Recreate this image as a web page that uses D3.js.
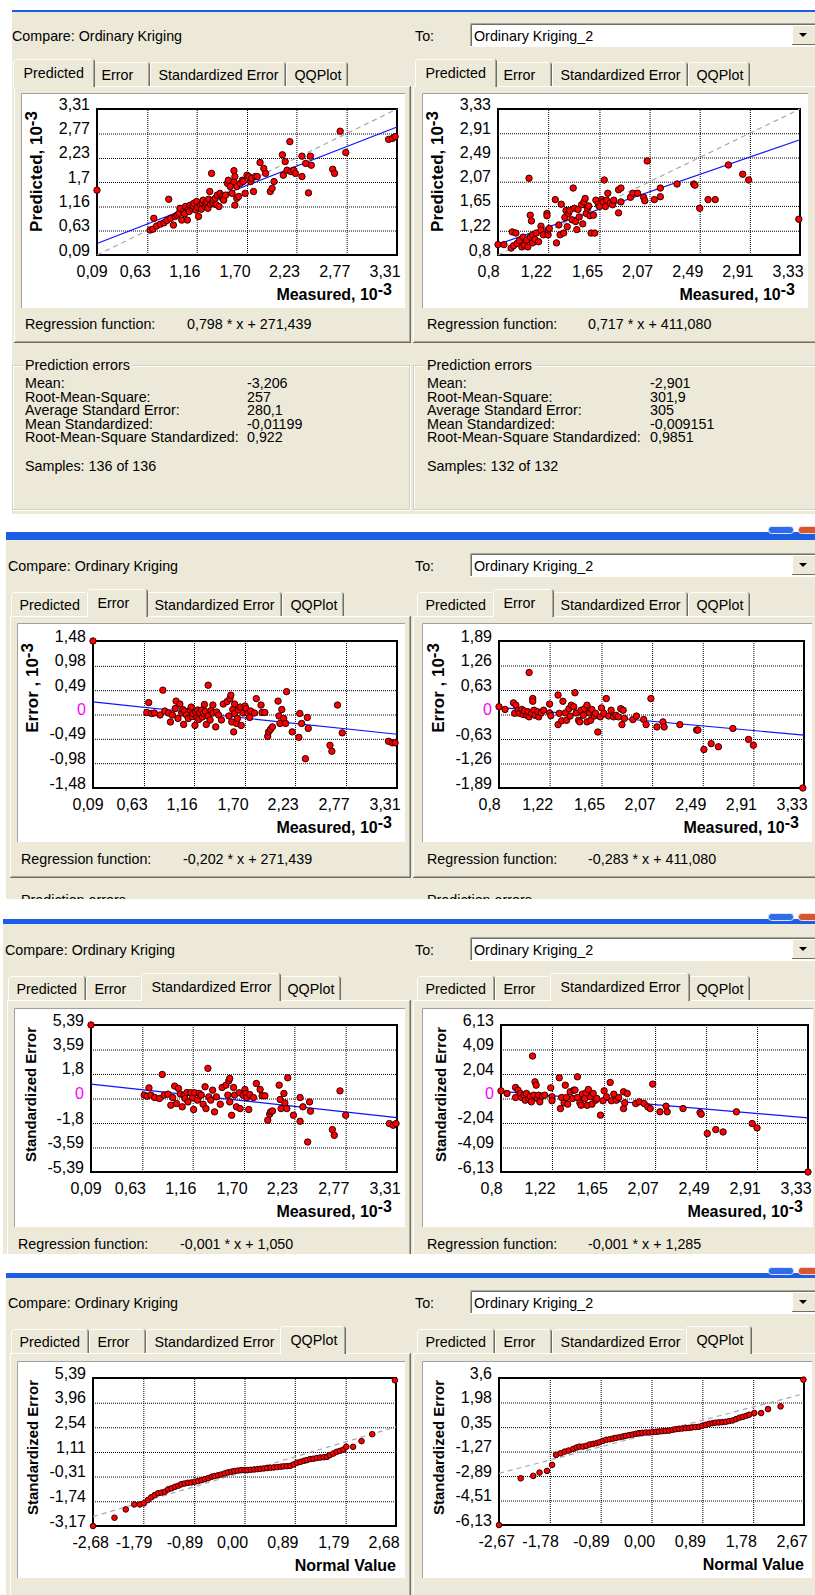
<!DOCTYPE html>
<html>
<head>
<meta charset="utf-8">
<script src="https://cdn.jsdelivr.net/npm/d3@7/dist/d3.min.js"></script>
<style>
  body { margin: 0; background: #fff; }
  svg { display: block; }
</style>
</head>
<body>
<svg id="chart" width="815" height="1595"></svg>
<script>
// =============================
// DATA (in 10^-3 units)
// =============================
const tabNames = ["Predicted", "Error", "Standardized Error", "QQPlot"];
const modelLeft = "Ordinary Kriging";
const modelRight = "Ordinary Kriging_2";

const ticksMeasuredL = ["0,09", "0,63", "1,16", "1,70", "2,23", "2,77", "3,31"];
const ticksPredictedL = ["0,09", "0,63", "1,16", "1,7", "2,23", "2,77", "3,31"];
const ticksMeasuredR = ["0,8", "1,22", "1,65", "2,07", "2,49", "2,91", "3,33"];
const ticksErrorL = ["-1,48", "-0,98", "-0,49", "0", "0,49", "0,98", "1,48"];
const ticksErrorR = ["-1,89", "-1,26", "-0,63", "0", "0,63", "1,26", "1,89"];
const ticksStdL = ["-5,39", "-3,59", "-1,8", "0", "1,8", "3,59", "5,39"];
const ticksStdR = ["-6,13", "-4,09", "-2,04", "0", "2,04", "4,09", "6,13"];
const ticksQQyL = ["-3,17", "-1,74", "-0,31", "1,11", "2,54", "3,96", "5,39"];
const ticksQQxL = ["-2,68", "-1,79", "-0,89", "0,00", "0,89", "1,79", "2,68"];
const ticksQQyR = ["-6,13", "-4,51", "-2,89", "-1,27", "0,35", "1,98", "3,6"];
const ticksQQxR = ["-2,67", "-1,78", "-0,89", "0,00", "0,89", "1,78", "2,67"];

const regTexts = {
  predL: "0,798 * x + 271,439", predR: "0,717 * x + 411,080",
  errL: "-0,202 * x + 271,439", errR: "-0,283 * x + 411,080",
  stdL: "-0,001 * x + 1,050", stdR: "-0,001 * x + 1,285"
};

const statLabels = ["Mean:", "Root-Mean-Square:", "Average Standard Error:", "Mean Standardized:", "Root-Mean-Square Standardized:"];
const statsLeft = ["-3,206", "257", "280,1", "-0,01199", "0,922"];
const statsRight = ["-2,901", "301,9", "305", "-0,009151", "0,9851"];
const samplesLeft = "Samples: 136 of 136";
const samplesRight = "Samples: 132 of 132";

// regression (blue) and reference (grey dashed) lines, end points
const regPredL = [[0.09, 0.343], [3.31, 2.912]];
const regPredR = [[0.8, 0.985], [3.33, 2.798]];
const regErrL = [[0.09, 0.253], [3.31, -0.398]];
const regErrR = [[0.8, 0.185], [3.33, -0.531]];
const regStdL = [[0.09, 1.05], [3.31, -1.40]];
const regStdR = [[0.8, 0.61], [3.33, -1.62]];
const refPredL = [[0.09, 0.09], [3.31, 3.31]];
const refPredR = [[0.8, 0.8], [3.33, 3.33]];
const refQQL = [[-2.68, -2.63], [2.68, 2.56]];
const refQQR = [[-2.67, -2.71], [2.67, 2.56]];

const predLeft = [[0.09,1.52],[0.66,0.64],[0.69,0.66],[0.70,0.90],[0.73,0.73],[0.77,0.77],[0.81,0.80],[0.84,0.85],[0.86,1.32],[0.88,0.90],[0.91,0.75],[0.93,0.94],[0.95,0.97],[0.97,1.01],[0.98,1.12],[1.00,0.86],[1.02,1.05],[1.03,1.00],[1.04,1.16],[1.06,0.86],[1.07,1.10],[1.08,1.05],[1.09,1.19],[1.11,1.12],[1.12,1.17],[1.13,1.23],[1.15,1.08],[1.16,1.27],[1.17,1.14],[1.18,0.94],[1.20,1.19],[1.21,1.10],[1.22,1.23],[1.23,1.30],[1.25,1.16],[1.26,1.22],[1.27,1.27],[1.28,1.12],[1.29,1.32],[1.30,1.49],[1.31,1.21],[1.32,1.89],[1.33,1.25],[1.34,1.30],[1.36,1.34],[1.37,1.20],[1.38,1.41],[1.40,1.16],[1.41,1.45],[1.43,1.38],[1.44,1.33],[1.45,1.30],[1.47,1.41],[1.49,1.67],[1.50,1.74],[1.52,1.60],[1.54,1.45],[1.56,1.95],[1.56,1.71],[1.57,1.82],[1.57,1.19],[1.59,1.60],[1.59,1.34],[1.61,1.38],[1.63,1.67],[1.65,1.74],[1.66,1.71],[1.68,1.45],[1.70,1.85],[1.72,1.82],[1.74,1.71],[1.75,1.78],[1.77,1.49],[1.79,1.82],[1.81,1.82],[1.84,2.13],[1.88,2.00],[1.90,1.89],[1.95,1.49],[1.97,1.56],[1.99,1.71],[2.08,2.30],[2.09,1.85],[2.11,2.15],[2.13,1.96],[2.16,2.59],[2.17,1.93],[2.20,1.96],[2.22,1.89],[2.29,1.82],[2.29,2.27],[2.33,2.11],[2.36,1.46],[2.38,2.27],[2.39,2.07],[2.62,1.98],[2.64,1.89],[2.70,2.82],[2.76,2.35],[3.22,2.64],[3.26,2.66],[3.29,2.70]];

const predRight = [[0.80,0.98],[0.85,0.98],[0.91,0.92],[0.92,1.20],[0.93,0.96],[0.95,1.18],[0.96,1.00],[0.98,1.05],[1.00,0.94],[1.01,1.11],[1.02,0.97],[1.04,1.06],[1.05,0.94],[1.06,2.13],[1.07,1.11],[1.07,1.49],[1.08,1.39],[1.09,1.01],[1.09,1.15],[1.11,1.07],[1.12,1.18],[1.14,1.03],[1.16,1.30],[1.16,1.23],[1.18,1.15],[1.21,1.52],[1.21,1.48],[1.22,1.15],[1.22,1.23],[1.23,1.26],[1.28,1.76],[1.29,1.01],[1.31,1.32],[1.32,1.15],[1.33,1.68],[1.35,1.18],[1.36,1.45],[1.37,1.57],[1.38,1.29],[1.39,1.52],[1.40,1.57],[1.42,1.41],[1.43,1.96],[1.44,1.61],[1.45,1.38],[1.46,1.24],[1.47,1.59],[1.48,1.46],[1.50,1.67],[1.51,1.34],[1.52,1.72],[1.53,1.78],[1.54,1.52],[1.55,1.61],[1.56,1.65],[1.57,1.48],[1.58,1.18],[1.60,1.49],[1.61,1.18],[1.62,1.75],[1.64,1.68],[1.65,1.64],[1.67,1.76],[1.68,1.72],[1.69,2.10],[1.70,1.64],[1.71,1.75],[1.72,1.87],[1.74,1.70],[1.76,1.67],[1.77,1.75],[1.81,1.93],[1.81,1.53],[1.83,1.72],[1.83,1.96],[1.91,1.80],[1.93,1.87],[1.97,1.87],[2.02,1.80],[2.03,1.74],[2.05,2.43],[2.11,1.76],[2.16,1.81],[2.16,1.96],[2.30,2.03],[2.44,2.03],[2.45,2.01],[2.49,1.61],[2.56,1.76],[2.62,1.76],[2.73,2.36],[2.85,2.20],[2.90,2.10],[3.32,1.42]];

const errLeft = [[0.09,1.48],[0.66,0.04],[0.68,0.24],[0.71,0.02],[0.74,0.03],[0.80,-0.01],[0.83,0.49],[0.85,0.07],[0.89,0.03],[0.91,-0.15],[0.93,-0.01],[0.96,0.12],[0.97,0.27],[0.99,-0.08],[1.01,0.21],[1.03,0.03],[1.04,0.10],[1.05,-0.20],[1.06,0.07],[1.08,-0.01],[1.10,-0.08],[1.12,0.09],[1.13,0.15],[1.14,-0.04],[1.15,0.02],[1.17,-0.22],[1.18,0.05],[1.19,-0.06],[1.20,0.09],[1.21,-0.10],[1.22,0.03],[1.24,0.09],[1.25,-0.05],[1.26,0.02],[1.27,0.20],[1.28,0.06],[1.29,-0.20],[1.31,0.59],[1.31,-0.03],[1.33,-0.11],[1.34,0.08],[1.36,0.03],[1.36,0.19],[1.39,-0.25],[1.40,0.05],[1.42,-0.01],[1.45,-0.11],[1.47,0.21],[1.51,0.26],[1.53,-0.03],[1.54,0.32],[1.55,0.39],[1.56,-0.15],[1.57,0.10],[1.58,-0.35],[1.59,0.21],[1.59,0.02],[1.61,-0.18],[1.62,-0.08],[1.63,0.09],[1.65,0.15],[1.66,-0.22],[1.68,0.03],[1.70,0.17],[1.71,0.12],[1.73,0.02],[1.75,-0.06],[1.76,0.07],[1.80,0.03],[1.82,0.32],[1.87,0.19],[1.88,0.04],[1.91,0.04],[1.94,-0.44],[1.95,-0.35],[1.97,-0.30],[1.99,-0.25],[2.05,0.27],[2.06,-0.03],[2.07,-0.18],[2.09,0.10],[2.11,-0.08],[2.13,-0.18],[2.14,0.46],[2.20,-0.35],[2.27,-0.46],[2.28,0.02],[2.30,-0.18],[2.34,-0.89],[2.36,-0.06],[2.37,-0.28],[2.60,-0.62],[2.62,-0.74],[2.68,0.19],[2.73,-0.37],[3.22,-0.54],[3.26,-0.57],[3.29,-0.57]];

const errRight = [[0.80,0.20],[0.85,0.13],[0.92,0.30],[0.93,0.03],[0.94,0.24],[0.96,0.11],[0.97,0.03],[0.99,0.13],[1.00,0.00],[1.01,0.09],[1.03,-0.02],[1.04,0.07],[1.05,-0.06],[1.05,1.08],[1.07,0.03],[1.08,0.41],[1.08,0.34],[1.09,0.11],[1.10,-0.02],[1.12,0.07],[1.13,-0.06],[1.15,0.04],[1.17,0.11],[1.22,0.27],[1.22,0.04],[1.23,-0.03],[1.29,0.50],[1.29,-0.26],[1.30,0.03],[1.32,-0.16],[1.33,0.34],[1.35,0.04],[1.36,-0.15],[1.38,0.15],[1.39,-0.04],[1.40,0.24],[1.42,0.20],[1.43,0.56],[1.44,0.04],[1.46,-0.15],[1.47,-0.19],[1.48,0.11],[1.50,-0.02],[1.51,0.15],[1.53,-0.19],[1.53,0.24],[1.55,0.04],[1.56,-0.15],[1.57,0.13],[1.59,-0.04],[1.60,0.03],[1.62,-0.45],[1.64,-0.06],[1.65,0.17],[1.67,0.03],[1.69,0.41],[1.71,-0.04],[1.73,0.11],[1.75,-0.06],[1.77,-0.02],[1.79,-0.06],[1.81,0.15],[1.82,-0.26],[1.83,0.11],[1.84,-0.10],[1.91,-0.13],[1.94,-0.04],[2.00,-0.13],[2.02,-0.26],[2.06,0.41],[2.11,-0.32],[2.16,-0.19],[2.17,-0.32],[2.30,-0.26],[2.44,-0.40],[2.45,-0.40],[2.50,-0.90],[2.56,-0.75],[2.62,-0.83],[2.74,-0.36],[2.87,-0.64],[2.91,-0.79],[3.32,-1.89]];

const stdLeft = [[0.09,5.39],[0.65,0.25],[0.68,0.17],[0.70,0.78],[0.72,0.25],[0.76,0.07],[0.81,0.00],[0.84,1.76],[0.86,0.25],[0.90,0.32],[0.93,-0.49],[0.95,0.07],[0.97,0.91],[0.99,-0.37],[1.01,0.74],[1.03,0.32],[1.05,-0.61],[1.07,0.25],[1.08,0.00],[1.10,0.44],[1.11,-0.25],[1.14,0.42],[1.16,0.07],[1.17,-0.81],[1.18,0.42],[1.21,-0.12],[1.23,0.37],[1.25,0.25],[1.27,-0.42],[1.29,0.86],[1.30,-0.74],[1.32,2.21],[1.33,0.12],[1.35,-0.12],[1.37,0.61],[1.39,-0.98],[1.41,0.12],[1.45,-0.42],[1.47,0.81],[1.51,0.98],[1.53,0.25],[1.54,1.30],[1.55,1.47],[1.55,-0.25],[1.57,-1.23],[1.59,0.81],[1.60,0.25],[1.62,-0.61],[1.65,0.42],[1.66,-0.74],[1.69,0.25],[1.71,0.66],[1.72,0.37],[1.73,0.07],[1.75,-0.81],[1.76,0.29],[1.80,0.07],[1.83,1.10],[1.87,0.66],[1.89,0.20],[1.92,0.20],[1.95,-1.59],[1.97,-1.15],[1.98,-0.98],[2.00,-0.91],[2.07,0.98],[2.08,-0.07],[2.09,-0.74],[2.12,0.37],[2.13,-0.32],[2.15,-0.74],[2.16,1.52],[2.22,-1.23],[2.29,-1.67],[2.29,0.07],[2.32,-0.61],[2.37,-3.19],[2.39,-0.25],[2.40,-0.93],[2.63,-2.28],[2.65,-2.70],[2.71,0.56],[2.77,-1.23],[3.23,-1.84],[3.27,-1.96],[3.30,-1.84]];

const stdRight = [[0.80,0.64],[0.85,0.42],[0.92,0.92],[0.92,0.08],[0.94,0.70],[0.96,0.42],[0.97,0.08],[0.99,0.28],[1.00,-0.14],[1.01,0.42],[1.03,0.00],[1.04,0.19],[1.05,-0.28],[1.06,3.54],[1.07,0.28],[1.08,1.39],[1.09,1.11],[1.10,0.00],[1.11,0.28],[1.12,-0.28],[1.14,0.19],[1.16,0.28],[1.21,0.89],[1.22,0.14],[1.22,-0.19],[1.28,1.73],[1.29,-0.84],[1.30,0.08],[1.32,-0.36],[1.33,1.11],[1.34,0.08],[1.35,-0.47],[1.37,0.56],[1.39,0.00],[1.40,0.70],[1.41,0.70],[1.43,1.81],[1.43,0.08],[1.45,-0.36],[1.46,-0.56],[1.47,0.36],[1.49,0.00],[1.50,0.47],[1.51,-0.56],[1.52,0.75],[1.54,0.14],[1.55,-0.47],[1.56,0.42],[1.58,-0.14],[1.59,0.00],[1.62,-1.39],[1.64,-0.19],[1.65,0.64],[1.67,0.14],[1.70,1.34],[1.71,-0.19],[1.73,0.36],[1.75,-0.14],[1.77,0.08],[1.81,0.56],[1.81,-0.84],[1.82,-0.36],[1.84,0.42],[1.91,-0.42],[1.94,-0.28],[1.98,-0.42],[2.01,-0.70],[2.03,-0.84],[2.05,1.20],[2.11,-1.11],[2.16,-0.64],[2.17,-1.11],[2.30,-0.84],[2.44,-1.17],[2.45,-1.31],[2.50,-2.92],[2.57,-2.59],[2.63,-2.79],[2.74,-1.11],[2.87,-2.09],[2.91,-2.45],[3.33,-6.13]];

const qqLeft = [[-2.68,-3.17],[-2.30,-2.69],[-2.10,-2.21],[-1.95,-1.92],[-1.85,-1.92],[-1.78,-1.86],[-1.71,-1.67],[-1.65,-1.51],[-1.59,-1.38],[-1.53,-1.28],[-1.47,-1.24],[-1.41,-1.19],[-1.35,-1.05],[-1.29,-0.99],[-1.23,-0.90],[-1.17,-0.84],[-1.12,-0.76],[-1.06,-0.71],[-1.00,-0.67],[-0.94,-0.65],[-0.88,-0.61],[-0.82,-0.57],[-0.76,-0.52],[-0.70,-0.46],[-0.64,-0.40],[-0.58,-0.32],[-0.53,-0.28],[-0.47,-0.24],[-0.41,-0.19],[-0.35,-0.13],[-0.29,-0.07],[-0.23,-0.03],[-0.18,0.01],[-0.12,0.03],[-0.06,0.06],[0.00,0.06],[0.05,0.06],[0.11,0.08],[0.17,0.10],[0.23,0.12],[0.28,0.14],[0.34,0.16],[0.40,0.18],[0.46,0.20],[0.52,0.22],[0.58,0.24],[0.64,0.26],[0.69,0.28],[0.75,0.29],[0.81,0.31],[0.87,0.39],[0.93,0.49],[0.99,0.54],[1.05,0.60],[1.10,0.64],[1.16,0.70],[1.22,0.72],[1.28,0.76],[1.34,0.79],[1.40,0.81],[1.46,0.83],[1.51,0.93],[1.57,1.02],[1.63,1.12],[1.69,1.18],[1.75,1.25],[1.80,1.41],[1.92,1.41],[2.07,1.74],[2.26,2.14],[2.66,5.26]];

const qqRight = [[-2.67,-6.13],[-2.29,-3.04],[-2.07,-2.88],[-1.96,-2.66],[-1.83,-2.55],[-1.74,-2.15],[-1.67,-1.49],[-1.59,-1.38],[-1.52,-1.27],[-1.45,-1.20],[-1.37,-1.09],[-1.31,-1.00],[-1.26,-0.94],[-1.20,-0.94],[-1.14,-0.89],[-1.08,-0.80],[-1.02,-0.76],[-0.96,-0.71],[-0.91,-0.65],[-0.85,-0.56],[-0.79,-0.49],[-0.73,-0.45],[-0.67,-0.40],[-0.62,-0.36],[-0.56,-0.32],[-0.50,-0.27],[-0.45,-0.23],[-0.39,-0.18],[-0.33,-0.14],[-0.27,-0.09],[-0.22,-0.05],[-0.16,-0.03],[-0.10,-0.01],[-0.04,-0.01],[0.02,0.02],[0.08,0.04],[0.13,0.06],[0.19,0.08],[0.25,0.10],[0.31,0.12],[0.37,0.17],[0.42,0.21],[0.48,0.24],[0.54,0.26],[0.60,0.28],[0.66,0.30],[0.71,0.33],[0.77,0.35],[0.83,0.37],[0.89,0.44],[0.95,0.50],[1.01,0.57],[1.07,0.61],[1.12,0.64],[1.18,0.66],[1.24,0.68],[1.30,0.70],[1.36,0.75],[1.42,0.79],[1.48,0.88],[1.54,0.97],[1.60,1.03],[1.66,1.10],[1.71,1.17],[1.80,1.28],[1.92,1.28],[2.04,1.54],[2.26,1.72],[2.66,3.49]];

// =============================
// LOOK
// =============================
const FONT = "'Liberation Sans', Arial, Helvetica, sans-serif";
const BG = "#ECE9D8", HI = "#FFFFFF", SH = "#ACA899", DK = "#716F64";
const UI = 14.3;
const num = s => +s.replace(",", ".");

const svg = d3.select("#chart");
svg.append("rect").attr("width", 815).attr("height", 1595).attr("fill", "#fff");

// one entry per screenshot strip
const sections = [
  { dy: 0,    sx: 0,  barY: 10,   barH: 2, x0: 12, end: 514,  tab: 0, white: [93, 308],   whiteR: 808, regY: 329,  pageB: 343,  group: true,  buttons: false },
  { dy: 530,  sx: -4, barY: 532,  barH: 8, x0: 6,  end: 899,  tab: 1, white: [623, 842],  whiteR: 812, regY: 864,  pageB: 878,  group: true,  buttons: true },
  { dy: 914,  sx: -7, barY: 919,  barH: 5, x0: 3,  end: 1254, tab: 2, white: [1008, 1227], whiteR: 813, regY: 1249, pageB: 1262, group: false, buttons: true },
  { dy: 1267, sx: -4, barY: 1273, barH: 5, x0: 6,  end: 1595, tab: 3, white: [1361, 1578], whiteR: 812, regY: null, pageB: 1640, group: false, buttons: true }
];

const panels = [
  [ { frame: [97, 109, 397, 255], xTicks: ticksMeasuredL, yTicks: ticksPredictedL, xTitle: ["Measured, 10", "-3"], yTitle: ["Predicted, 10", "-3"], ySize: 17, points: predLeft, reg: regPredL, ref: refPredL, regText: regTexts.predL },
    { frame: [498, 109, 800, 255], xTicks: ticksMeasuredR, yTicks: ticksMeasuredR, xTitle: ["Measured, 10", "-3"], yTitle: ["Predicted, 10", "-3"], ySize: 17, points: predRight, reg: regPredR, ref: refPredR, regText: regTexts.predR } ],
  [ { frame: [93, 641, 397, 788], xTicks: ticksMeasuredL, yTicks: ticksErrorL, xTitle: ["Measured, 10", "-3"], yTitle: ["Error , 10", "-3"], ySize: 17, points: errLeft, reg: regErrL, zero: true, regText: regTexts.errL },
    { frame: [499, 641, 804, 788], xTicks: ticksMeasuredR, yTicks: ticksErrorR, xTitle: ["Measured, 10", "-3"], yTitle: ["Error , 10", "-3"], ySize: 17, points: errRight, reg: regErrR, zero: true, regText: regTexts.errR } ],
  [ { frame: [91, 1025, 397, 1172], xTicks: ticksMeasuredL, yTicks: ticksStdL, xTitle: ["Measured, 10", "-3"], yTitle: ["Standardized Error"], ySize: 15, points: stdLeft, reg: regStdL, zero: true, regText: regTexts.stdL },
    { frame: [501, 1025, 808, 1172], xTicks: ticksMeasuredR, yTicks: ticksStdR, xTitle: ["Measured, 10", "-3"], yTitle: ["Standardized Error"], ySize: 15, points: stdRight, reg: regStdR, zero: true, regText: regTexts.stdR } ],
  [ { frame: [93, 1378, 396, 1526], xTicks: ticksQQxL, yTicks: ticksQQyL, xTitle: ["Normal Value"], xInset: 0, yTitle: ["Standardized Error"], ySize: 15, points: qqLeft, ref: refQQL, r: 2.8 },
    { frame: [499, 1378, 804, 1525], xTicks: ticksQQxR, yTicks: ticksQQyR, xTitle: ["Normal Value"], xInset: 0, yTitle: ["Standardized Error"], ySize: 15, points: qqRight, ref: refQQR, r: 2.8 } ]
];

const tabEdgesL = [15, 93, 150, 286, 348];
const tabEdgesR = [417, 495, 552, 688, 750];

// =============================
// HELPERS
// =============================
const label = (g, x, y, t, opts = {}) => g.append("text")
  .attr("x", x).attr("y", y).text(t)
  .attr("font-family", FONT).attr("font-size", opts.size || UI)
  .attr("fill", opts.fill || "#000")
  .attr("text-anchor", opts.anchor || "start");

const edge = (g, d, c) => g.append("path").attr("d", d).attr("fill", "none").attr("stroke", c).attr("stroke-width", 1);

function drawPage(g, x0, x1, y0, y1) {
  edge(g, `M${x0 + 0.5},${y1} V${y0 + 0.5} H${x1 - 1}`, HI);
  edge(g, `M${x1 - 1.5},${y0 + 1} V${y1}`, SH);
  edge(g, `M${x1 - 0.5},${y0} V${y1}`, DK);
  edge(g, `M${x0 + 1},${y1 - 1.5} H${x1 - 1}`, SH);
  edge(g, `M${x0},${y1 - 0.5} H${x1}`, DK);
}

function drawTabs(g, edges, dy, sel) {
  const top = dy + 62, stop = dy + 59, bot = dy + 86;
  const one = (a, b, t, isSel) => {
    g.append("rect").attr("x", a).attr("y", t).attr("width", b - a).attr("height", bot - t + (isSel ? 2 : 0)).attr("fill", BG);
    edge(g, `M${a + 0.5},${bot + (isSel ? 1 : 0)} V${t + 2.5} L${a + 2.5},${t + 0.5} H${b - 2.5}`, HI);
    edge(g, `M${b - 1.5},${t + 2} V${bot + (isSel ? 1 : 0)}`, SH);
    edge(g, `M${b - 2},${t + 0.5} L${b - 0.5},${t + 2} V${bot + (isSel ? 1 : 0)}`, DK);
  };
  tabNames.forEach((n, i) => {
    if (i === sel) return;
    one(edges[i], edges[i + 1], top, false);
    label(g, edges[i] + 8.5, dy + 80, n);
  });
  one(edges[sel] - 2, edges[sel + 1] + 2, stop, true);
  label(g, edges[sel] + 8.5, dy + 78, tabNames[sel]);
}

function drawGroup(g, x0, x1, y0, y1, lx, title) {
  g.append("rect").attr("x", x0 + 1.5).attr("y", y0 + 1.5).attr("width", x1 - x0 - 2).attr("height", y1 - y0 - 2).attr("fill", "none").attr("stroke", HI);
  g.append("rect").attr("x", x0 + 0.5).attr("y", y0 + 0.5).attr("width", x1 - x0 - 2).attr("height", y1 - y0 - 2).attr("fill", "none").attr("stroke", "#D0D0BF");
  const bgRect = g.append("rect").attr("fill", BG);
  const t = label(g, lx, y0 + 4.5, title);
  const w = t.node().getComputedTextLength();
  bgRect.attr("x", lx - 2).attr("y", y0 - 2).attr("width", w + 4).attr("height", 6);
}

function drawCombo(g, dy) {
  const x0 = 470, x1 = 820, top = dy + 23, bot = dy + 47, bx = 792;
  g.append("rect").attr("x", x0).attr("y", top).attr("width", x1 - x0).attr("height", bot - top).attr("fill", "#fff");
  edge(g, `M${x0 + 0.5},${bot} V${top + 0.5} H${x1}`, SH);
  edge(g, `M${x0 + 1.5},${bot - 1} V${top + 1.5} H${x1}`, DK);
  edge(g, `M${x0},${bot - 0.5} H${x1}`, HI);
  g.append("rect").attr("x", bx).attr("y", top + 2).attr("width", x1 - bx).attr("height", bot - top - 4).attr("fill", BG);
  edge(g, `M${bx + 0.5},${bot - 2} V${top + 2.5} H${x1}`, HI);
  edge(g, `M${bx},${bot - 2.5} H${x1}`, DK);
  g.append("path").attr("d", `M${bx + 7},${dy + 33} h8 l-4,4 z`).attr("fill", "#000");
  label(g, x0 + 4, dy + 41, modelRight);
}

// =============================
// ONE SCATTER / QQ PANEL
// =============================
function drawPlot(g, p) {
  const [l, t, r, b] = p.frame;
  const xv = p.xTicks.map(num), yv = p.yTicks.map(num);
  const x = d3.scaleLinear().domain([xv[0], xv[xv.length - 1]]).range([l, r]);
  const y = d3.scaleLinear().domain([yv[0], yv[yv.length - 1]]).range([b, t]);

  // y grid + labels
  const gy = g.append("g").attr("transform", `translate(${l},0)`)
    .call(d3.axisLeft(y).tickValues(yv).tickFormat((d, i) => p.yTicks[i]).tickSize(-(r - l)).tickPadding(7));
  gy.attr("font-family", FONT).attr("font-size", 16);
  gy.select(".domain").remove();
  gy.selectAll("line").attr("stroke", "#000").attr("stroke-dasharray", "1,1");
  gy.selectAll("text").attr("dy", null).attr("y", 0).attr("x", -7)
    .attr("fill", (d, i) => p.zero && p.yTicks[i] === "0" ? "#FF00FF" : "#000");

  // x grid + labels
  const gx = g.append("g").attr("transform", `translate(0,${b})`)
    .call(d3.axisBottom(x).tickValues(xv).tickFormat((d, i) => p.xTicks[i]).tickSize(-(b - t)));
  gx.attr("font-family", FONT).attr("font-size", 16);
  gx.select(".domain").remove();
  gx.selectAll("line").attr("stroke", "#000").attr("stroke-dasharray", "1,1");
  gx.selectAll("text").attr("dy", null).attr("y", 22).attr("text-anchor", "start")
    .attr("x", (d, i) => i === 0 ? -21 : -28).attr("fill", "#000");

  // frame
  g.append("rect").attr("x", l).attr("y", t).attr("width", r - l).attr("height", b - t)
    .attr("fill", "none").attr("stroke", "#000").attr("stroke-width", 2);

  const line = d3.line().x(d => x(d[0])).y(d => y(d[1]));
  if (p.ref) g.append("path").attr("d", line(p.ref)).attr("fill", "none")
    .attr("stroke", "#A8A8A8").attr("stroke-width", 1.2).attr("stroke-dasharray", "5,4");
  if (p.reg) g.append("path").attr("d", line(p.reg)).attr("fill", "none")
    .attr("stroke", "#1010FF").attr("stroke-width", 1.2);

  g.append("g").selectAll("circle").data(p.points).join("circle")
    .attr("cx", d => x(d[0])).attr("cy", d => y(d[1])).attr("r", p.r || 3.2)
    .attr("fill", "#FF0000").attr("stroke", "#300000").attr("stroke-width", 1);

  // axis titles
  const xt = g.append("text").attr("x", r - (p.xInset === undefined ? 5 : p.xInset)).attr("y", b + 45)
    .attr("text-anchor", "end").attr("font-family", FONT).attr("font-weight", "bold").attr("font-size", 16);
  xt.append("tspan").text(p.xTitle[0]);
  if (p.xTitle[1]) xt.append("tspan").attr("dy", -5).text(p.xTitle[1]);

  const yt = g.append("text").attr("transform", `translate(${l - 55},${t + 2}) rotate(-90)`)
    .attr("text-anchor", "end").attr("font-family", FONT).attr("font-weight", "bold").attr("font-size", p.ySize);
  yt.append("tspan").text(p.yTitle[0]);
  if (p.yTitle[1]) yt.append("tspan").attr("dy", -5).text(p.yTitle[1]);
}

// =============================
// DRAW THE FOUR STRIPS
// =============================
sections.forEach((s, k) => {
  const clipId = `clip${k}`;
  svg.append("clipPath").attr("id", clipId).append("rect")
    .attr("x", s.x0).attr("y", s.barY).attr("width", 815 - s.x0).attr("height", s.end - s.barY);
  const g = svg.append("g").attr("clip-path", `url(#${clipId})`);

  g.append("rect").attr("x", s.x0).attr("y", s.barY).attr("width", 815 - s.x0).attr("height", s.end - s.barY).attr("fill", BG);
  g.append("rect").attr("x", s.x0).attr("y", s.barY).attr("width", 815 - s.x0).attr("height", s.barH).attr("fill", "#1B5EE4");

  const [pl, pr] = panels[k];
  const sx = s.sx;
  const pageB = Math.min(s.pageB, s.end + 2);

  // ---- left half
  label(g, 12 + sx, s.dy + 41, "Compare: " + modelLeft);
  drawPage(g, 14 + sx, 411, s.dy + 86, pageB);
  drawTabs(g, tabEdgesL.map(e => e + sx), s.dy, s.tab);
  g.append("rect").attr("x", 21 + sx).attr("y", s.white[0]).attr("width", 405 - 21 - sx).attr("height", s.white[1] - s.white[0]).attr("fill", "#fff");
  edge(g, `M${21 + sx + 0.5},${s.white[1]} V${s.white[0] + 0.5} H405`, "#A0A0A0");
  drawPlot(g, pl);
  if (s.regY) {
    label(g, 25 + sx, s.regY, "Regression function:");
    label(g, 187 + sx, s.regY, pl.regText);
  }
  const gy0 = s.pageB + 22;
  if (s.group) drawGroup(g, 12 + sx, 411, gy0, gy0 + 146, 25 + sx, "Prediction errors");

  // ---- right half
  label(g, 415, s.dy + 41, "To:");
  drawCombo(g, s.dy);
  drawPage(g, 413, 830, s.dy + 86, pageB);
  drawTabs(g, tabEdgesR, s.dy, s.tab);
  g.append("rect").attr("x", 422).attr("y", s.white[0]).attr("width", s.whiteR - 422).attr("height", s.white[1] - s.white[0]).attr("fill", "#fff");
  edge(g, `M422.5,${s.white[1]} V${s.white[0] + 0.5} H${s.whiteR}`, "#A0A0A0");
  drawPlot(g, pr);
  if (s.regY) {
    label(g, 427, s.regY, "Regression function:");
    label(g, 588, s.regY, pr.regText);
  }
  if (s.group) drawGroup(g, 413, 830, gy0, gy0 + 146, 427, "Prediction errors");

  // statistics (only the first strip shows them)
  if (k === 0) {
    const rows = [gy0 + 23, gy0 + 36.5, gy0 + 50, gy0 + 63.5, gy0 + 77];
    statLabels.forEach((t, i) => {
      label(g, 25, rows[i], t);
      label(g, 247, rows[i], statsLeft[i]);
      label(g, 427, rows[i], t);
      label(g, 650, rows[i], statsRight[i]);
    });
    label(g, 25, gy0 + 106, samplesLeft);
    label(g, 427, gy0 + 106, samplesRight);
  }

  // title bar buttons peeking above the blue band
  if (s.buttons) {
    svg.append("rect").attr("x", 768.5).attr("y", s.barY - 5.5).attr("width", 25).attr("height", 7).attr("rx", 3)
      .attr("fill", "#2F6BEA").attr("stroke", "#DCE6FA");
    svg.append("rect").attr("x", 798.5).attr("y", s.barY - 5.5).attr("width", 22).attr("height", 7).attr("rx", 3)
      .attr("fill", "#D9552F").attr("stroke", "#F4D8CC");
  }
});
</script>
</body>
</html>
